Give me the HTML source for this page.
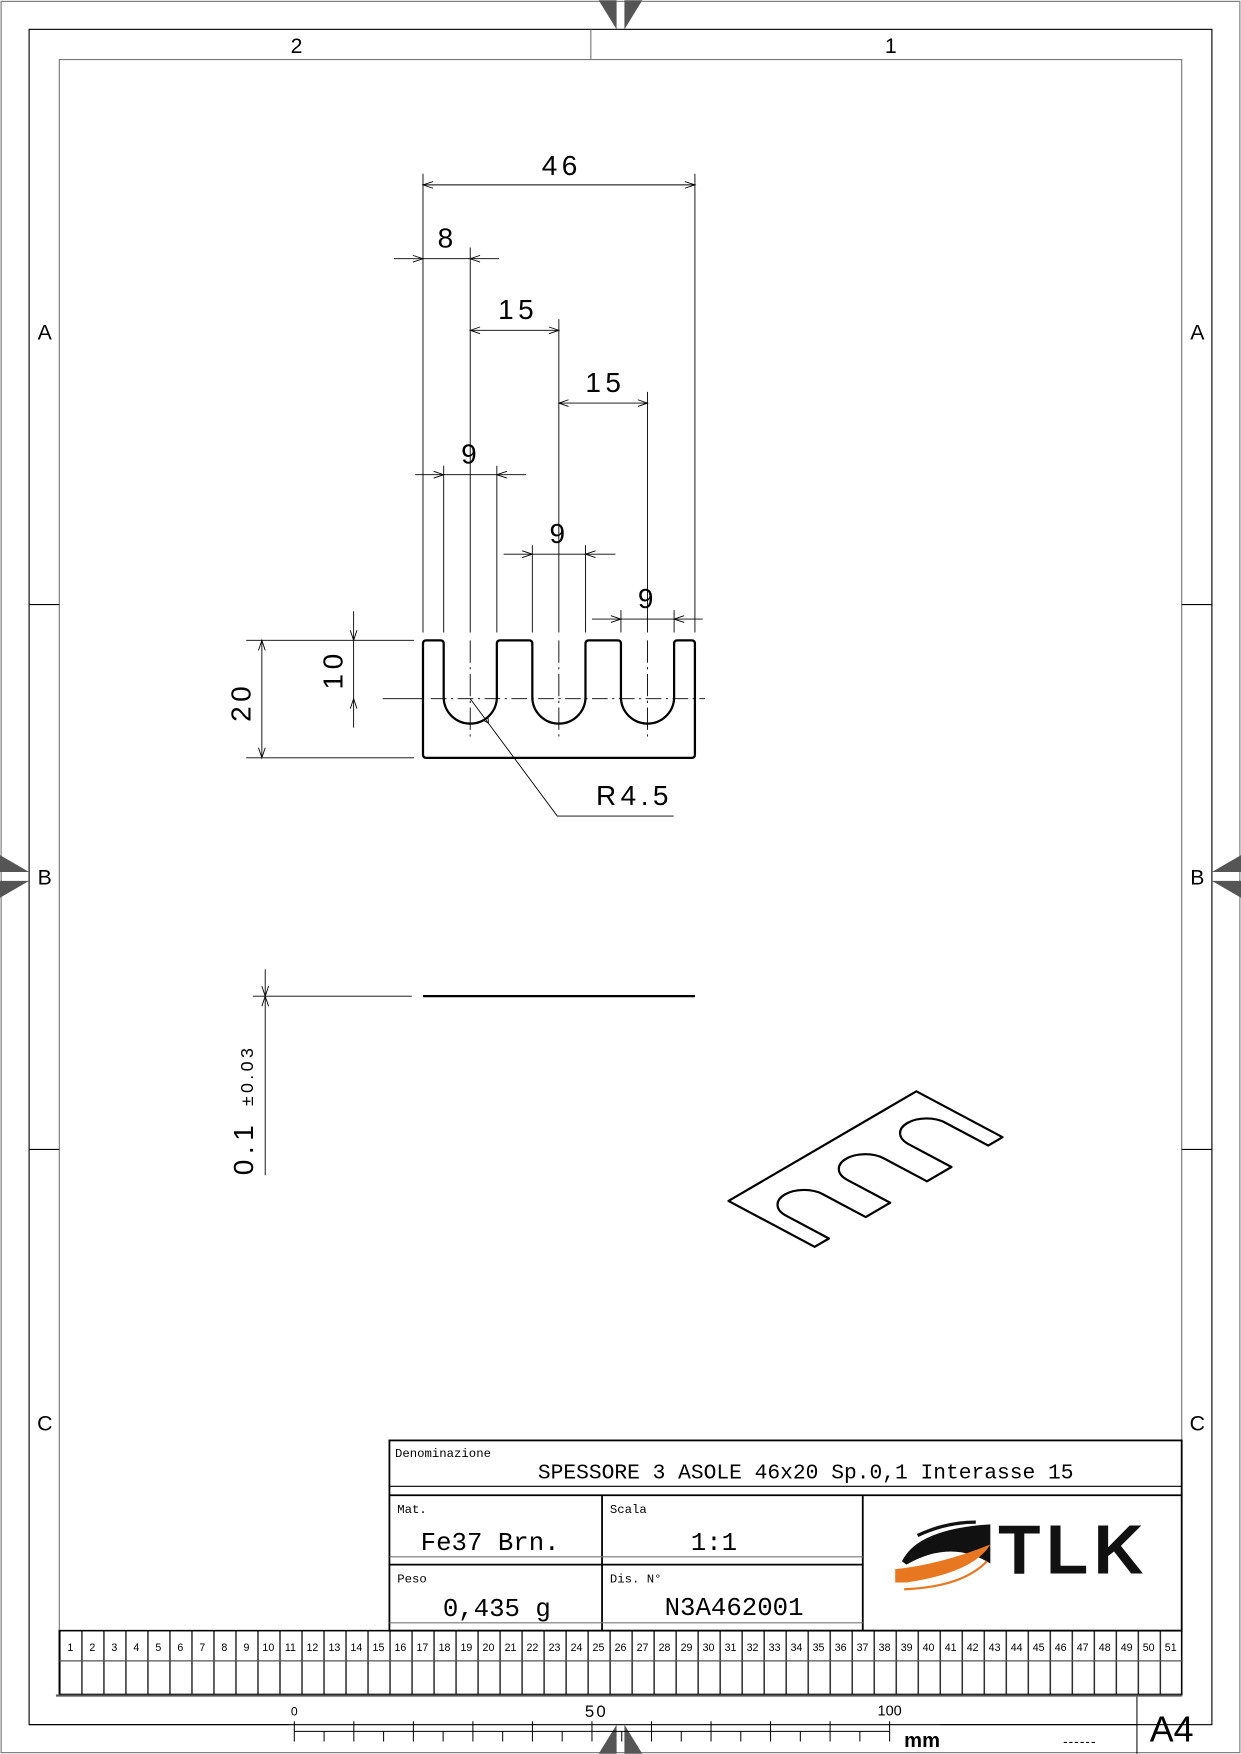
<!DOCTYPE html>
<html><head><meta charset="utf-8"><style>
html,body{margin:0;padding:0;background:#fff}
svg{display:block}
.t{font-family:"Liberation Sans",sans-serif}
.m{font-family:"Liberation Mono",monospace}
</style></head><body>
<svg width="1241" height="1754" viewBox="0 0 1109 1567" xmlns="http://www.w3.org/2000/svg">
<defs>
<pattern id="cols" x="53" y="0" width="19.6667" height="10" patternUnits="userSpaceOnUse">
<line x1="0.5" y1="0" x2="0.5" y2="10" stroke="#000" stroke-width="1.2"/>
</pattern>
</defs>
<rect x="1" y="1" width="1107" height="1565" fill="none" stroke="#777" stroke-width="1"/>
<rect x="26" y="26" width="1057" height="1515" fill="none" stroke="#000" stroke-width="1"/>
<rect x="53" y="53" width="1003" height="1462" fill="none" stroke="#777" stroke-width="1"/>
<line x1="528" y1="26" x2="528" y2="53" stroke="#777"/>
<line x1="26" y1="540" x2="53" y2="540" stroke="#000"/>
<line x1="26" y1="1027" x2="53" y2="1027" stroke="#000"/>
<line x1="1056" y1="540" x2="1083" y2="540" stroke="#000"/>
<line x1="1056" y1="1027" x2="1083" y2="1027" stroke="#000"/>
<g class="t" font-size="19" text-anchor="middle">
<text x="265" y="47">2</text><text x="796" y="47">1</text>
<text x="40" y="303">A</text><text x="40" y="790">B</text><text x="40" y="1278">C</text>
<text x="1070" y="303">A</text><text x="1070" y="790">B</text><text x="1070" y="1278">C</text>
</g>
<g fill="#555">
<polygon points="535,0 551,0 551,26"/><polygon points="558,0 574,0 558,26"/>
<polygon points="535,1567 551,1567 551,1541"/><polygon points="558,1567 574,1567 558,1541"/>
<polygon points="0,764 0,779 26,779"/><polygon points="0,787 26,787 0,802"/>
<polygon points="1109,764 1109,779 1083,779"/><polygon points="1109,787 1083,787 1109,802"/>
</g>

<path d="M381,572 Q378,572 378,575 L378,674 Q378,677 381,677 L618,677 Q621,677 621,674 L621,575 Q621,572 618,572 L605.4,572 Q602.4,572 602.4,575 L602.4,624.2 A23.8,23.8 0 0 1 554.9,624.2 L554.9,575 Q554.9,572 551.9,572 L526.2,572 Q523.2,572 523.2,575 L523.2,624.2 A23.8,23.8 0 0 1 475.7,624.2 L475.7,575 Q475.7,572 472.7,572 L447,572 Q444,572 444,575 L444,624.2 A23.8,23.8 0 0 1 396.5,624.2 L396.5,575 Q396.5,572 393.5,572 Z" fill="none" stroke="#000" stroke-width="2"/>
<g stroke="#000" stroke-width="0.8" fill="none">
<line x1="385" y1="624.2" x2="630" y2="624.2" stroke-dasharray="14,4,2,4"/>
<line x1="420.2" y1="221" x2="420.2" y2="565"/>
<line x1="499.4" y1="285" x2="499.4" y2="565"/>
<line x1="578.6" y1="350" x2="578.6" y2="565"/>
<line x1="420.2" y1="572" x2="420.2" y2="660" stroke-dasharray="20,4,2,4"/>
<line x1="499.4" y1="572" x2="499.4" y2="660" stroke-dasharray="20,4,2,4"/>
<line x1="578.6" y1="572" x2="578.6" y2="660" stroke-dasharray="20,4,2,4"/>
</g>
<g stroke="#000" stroke-width="0.8" fill="none">
<line x1="378" y1="155" x2="378" y2="565"/>
<line x1="621" y1="155" x2="621" y2="565"/>
<line x1="396.5" y1="416" x2="396.5" y2="565"/>
<line x1="444" y1="416" x2="444" y2="565"/>
<line x1="475.7" y1="487" x2="475.7" y2="565"/>
<line x1="523.2" y1="487" x2="523.2" y2="565"/>
<line x1="554.9" y1="545" x2="554.9" y2="565"/>
<line x1="602.4" y1="545" x2="602.4" y2="565"/>
<line x1="220" y1="572" x2="370" y2="572"/>
<line x1="220" y1="677" x2="370" y2="677"/>
<line x1="342" y1="624.2" x2="378" y2="624.2"/>
<line x1="378" y1="165" x2="621" y2="165"/>
<line x1="352" y1="231" x2="446" y2="231"/>
<line x1="420.2" y1="295" x2="499.4" y2="295"/>
<line x1="499.4" y1="360" x2="578.6" y2="360"/>
<line x1="371" y1="424" x2="470" y2="424"/>
<line x1="450" y1="495" x2="550" y2="495"/>
<line x1="529" y1="553" x2="628" y2="553"/>
<line x1="316" y1="546" x2="316" y2="650"/>
<line x1="234" y1="572" x2="234" y2="677"/>
<path d="M387,162 L378,165 L387,168 M612,162 L621,165 L612,168"/>
<path d="M369,228 L378,231 L369,234 M429,228 L420.2,231 L429,234"/>
<path d="M429,292 L420.2,295 L429,298 M490.6,292 L499.4,295 L490.6,298"/>
<path d="M508,357 L499.4,360 L508,363 M570,357 L578.6,360 L570,363"/>
<path d="M387.5,421 L396.5,424 L387.5,427 M453,421 L444,424 L453,427"/>
<path d="M466.7,492 L475.7,495 L466.7,498 M532.2,492 L523.2,495 L532.2,498"/>
<path d="M545.9,550 L554.9,553 L545.9,556 M611.4,550 L602.4,553 L611.4,556"/>
<path d="M313,563 L316,572 L319,563 M313,633 L316,624.2 L319,633"/>
<path d="M231,581 L234,572 L237,581 M231,668 L234,677 L237,668"/>
<path d="M420.2,624.2 L498,729 L602,729"/>
<path d="M431,643 L436.5,646 L436,639.5"/>
</g>
<g class="t" font-size="25" text-anchor="middle" letter-spacing="4">
<text x="502" y="156">46</text>
<text x="400" y="221">8</text>
<text x="463" y="285">15</text>
<text x="541" y="350">15</text>
<text x="421" y="414">9</text>
<text x="500" y="485">9</text>
<text x="579" y="543">9</text>
<text x="567" y="719">R4.5</text>
<text transform="translate(306,598) rotate(-90)">10</text>
<text transform="translate(224,627) rotate(-90)">20</text>
</g>

<line x1="378" y1="890" x2="621" y2="890" stroke="#000" stroke-width="2"/>
<g stroke="#000" stroke-width="0.8" fill="none">
<line x1="226" y1="890" x2="368" y2="890"/>
<line x1="237" y1="866" x2="237" y2="1050"/>
<path d="M234,881 L237,890 L240,881 M234,899 L237,890 L240,899"/>
</g>
<text class="t" transform="translate(226,1050) rotate(-90)" font-size="25" letter-spacing="5">0.1 <tspan font-size="16" letter-spacing="3">±0.03</tspan></text>

<path transform="matrix(3.65,-2.13,3.85,2.05,651,1073)" vector-effect="non-scaling-stroke" d="M0,0 L46,0 L46,20 L42.5,20 L42.5,10 A4.5,4.5 0 0 0 33.5,10 L33.5,20 L27.5,20 L27.5,10 A4.5,4.5 0 0 0 18.5,10 L18.5,20 L12.5,20 L12.5,10 A4.5,4.5 0 0 0 3.5,10 L3.5,20 L0,20 Z" fill="none" stroke="#000" stroke-width="2.2" stroke-linejoin="round"/>

<rect x="348" y="1287" width="708" height="170" fill="#fff" stroke="#000" stroke-width="1.6"/>
<g stroke="#000" stroke-width="1.6">
<line x1="348" y1="1328" x2="1056" y2="1328" stroke-width="1"/>
<line x1="348" y1="1336" x2="1056" y2="1336"/>
<line x1="538" y1="1336" x2="538" y2="1457"/>
<line x1="771" y1="1336" x2="771" y2="1457"/>
<line x1="348" y1="1398" x2="771" y2="1398"/>
</g>
<g stroke="#777" stroke-width="1">
<line x1="348" y1="1391" x2="771" y2="1391"/>
<line x1="348" y1="1450" x2="771" y2="1450"/>
</g>
<g class="m" font-size="11">
<text x="353" y="1302">Denominazione</text>
<text x="355" y="1352">Mat.</text>
<text x="545" y="1352">Scala</text>
<text x="355" y="1414">Peso</text>
<text x="545" y="1414">Dis. N°</text>
</g>
<g class="m" text-anchor="middle">
<text x="720" y="1321" font-size="19">SPESSORE 3 ASOLE 46x20 Sp.0,1 Interasse 15</text>
<text x="438" y="1385" font-size="23">Fe37 Brn.</text>
<text x="638" y="1385" font-size="23">1:1</text>
<text x="444" y="1444" font-size="23">0,435 g</text>
<text x="656" y="1443" font-size="23">N3A462001</text>
</g>
<path d="M806,1395 Q820,1366 885,1362 L885,1397 Q850,1375 810,1398 Z" fill="#111"/>
<path d="M820,1372 Q845,1360 872,1360" stroke="#111" stroke-width="3" fill="none"/>
<path d="M800,1402 Q840,1398 885,1380 Q870,1405 810,1414 L800,1414 Z" fill="#e87722"/>
<path d="M808,1420 Q860,1418 882,1395" stroke="#e87722" stroke-width="2" fill="none"/>
<text x="962" y="1406" class="t" font-size="62" font-weight="bold" text-anchor="middle" letter-spacing="10" fill="#111" textLength="140">TLK</text>

<rect x="53" y="1457" width="1003" height="57" fill="url(#cols)"/>
<rect x="53" y="1457" width="1003" height="57" fill="none" stroke="#000" stroke-width="1.4"/>
<line x1="53" y1="1484" x2="1056" y2="1484" stroke="#555" stroke-width="1.2"/>
<line x1="50" y1="1515" x2="1056" y2="1515" stroke="#555" stroke-width="2"/>
<g class="t" font-size="9.5" text-anchor="middle">
<text x="62.8" y="1475">1</text><text x="82.5" y="1475">2</text><text x="102.2" y="1475">3</text><text x="121.8" y="1475">4</text><text x="141.5" y="1475">5</text><text x="161.2" y="1475">6</text><text x="180.8" y="1475">7</text><text x="200.5" y="1475">8</text><text x="220.2" y="1475">9</text><text x="239.8" y="1475">10</text><text x="259.5" y="1475">11</text><text x="279.2" y="1475">12</text><text x="298.8" y="1475">13</text><text x="318.5" y="1475">14</text><text x="338.2" y="1475">15</text><text x="357.8" y="1475">16</text><text x="377.5" y="1475">17</text><text x="397.2" y="1475">18</text><text x="416.8" y="1475">19</text><text x="436.5" y="1475">20</text><text x="456.2" y="1475">21</text><text x="475.8" y="1475">22</text><text x="495.5" y="1475">23</text><text x="515.2" y="1475">24</text><text x="534.8" y="1475">25</text><text x="554.5" y="1475">26</text><text x="574.2" y="1475">27</text><text x="593.8" y="1475">28</text><text x="613.5" y="1475">29</text><text x="633.2" y="1475">30</text><text x="652.8" y="1475">31</text><text x="672.5" y="1475">32</text><text x="692.2" y="1475">33</text><text x="711.8" y="1475">34</text><text x="731.5" y="1475">35</text><text x="751.2" y="1475">36</text><text x="770.8" y="1475">37</text><text x="790.5" y="1475">38</text><text x="810.2" y="1475">39</text><text x="829.8" y="1475">40</text><text x="849.5" y="1475">41</text><text x="869.2" y="1475">42</text><text x="888.8" y="1475">43</text><text x="908.5" y="1475">44</text><text x="928.2" y="1475">45</text><text x="947.8" y="1475">46</text><text x="967.5" y="1475">47</text><text x="987.2" y="1475">48</text><text x="1006.8" y="1475">49</text><text x="1026.5" y="1475">50</text><text x="1046.2" y="1475">51</text>
</g>

<g stroke="#000" stroke-width="0.9">
<line x1="26" y1="1541" x2="258" y2="1541"/>
<line x1="840" y1="1541" x2="1016" y2="1541"/>
<line x1="1016" y1="1516" x2="1016" y2="1567"/>
<line x1="263" y1="1547" x2="795" y2="1547"/>
<path d="M263,1538V1556M316.2,1538V1556M369.4,1538V1556M422.6,1538V1556M475.8,1538V1556M529,1538V1556M582.2,1538V1556M635.4,1538V1556M688.6,1538V1556M741.8,1538V1556M795,1538V1556"/>
<path d="M289.6,1547V1556M342.8,1547V1556M396,1547V1556M449.2,1547V1556M502.4,1547V1556M555.6,1547V1556M608.8,1547V1556M662,1547V1556M715.2,1547V1556M768.4,1547V1556"/>
</g>
<g class="t">
<text x="263" y="1533" font-size="11" text-anchor="middle">0</text>
<text x="533" y="1534" font-size="15" text-anchor="middle" letter-spacing="2">50</text>
<text x="795" y="1533" font-size="13" text-anchor="middle">100</text>
<text x="808" y="1561" font-size="18" font-weight="bold">mm</text>
<text x="950" y="1560" font-size="12" letter-spacing="1">------</text>
<text x="1047" y="1556" font-size="32" text-anchor="middle">A4</text>
</g>
</svg>
</body></html>
